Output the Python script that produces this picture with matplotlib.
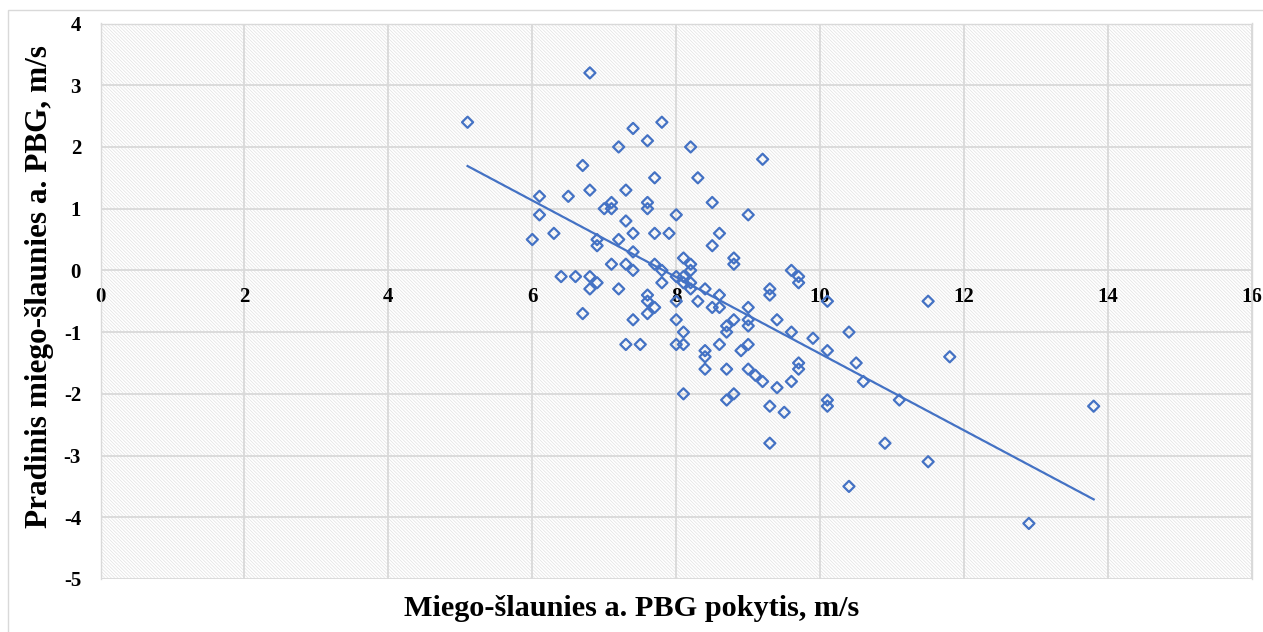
import matplotlib.pyplot as plt
import numpy as np
from matplotlib.patches import Rectangle

# --- Data: PBG change (x) vs. initial carotid-femoral PBG (y), m/s ---
pbg_change = [
    5.1, 6.0, 6.1, 6.1, 6.3, 6.4, 6.5, 6.6, 6.7, 6.7,
    6.8, 6.8, 6.8, 6.8, 6.9, 6.9, 6.9, 7.0, 7.1, 7.1,
    7.1, 7.2, 7.2, 7.2, 7.3, 7.3, 7.3, 7.3, 7.4, 7.4,
    7.4, 7.4, 7.4, 7.5, 7.6, 7.6, 7.6, 7.6, 7.6, 7.6,
    7.7, 7.7, 7.7, 7.7, 7.8, 7.8, 7.8, 7.9, 8.0, 8.0,
    8.0, 8.0, 8.0, 8.1, 8.1, 8.1, 8.1, 8.1, 8.1, 8.2,
    8.2, 8.2, 8.2, 8.2, 8.3, 8.3, 8.4, 8.4, 8.4, 8.4,
    8.5, 8.5, 8.5, 8.6, 8.6, 8.6, 8.6, 8.7, 8.7, 8.7,
    8.7, 8.8, 8.8, 8.8, 8.8, 8.9, 9.0, 9.0, 9.0, 9.0,
    9.0, 9.0, 9.1, 9.2, 9.2, 9.3, 9.3, 9.3, 9.3, 9.4,
    9.4, 9.5, 9.6, 9.6, 9.6, 9.7, 9.7, 9.7, 9.7, 9.9,
    10.1, 10.1, 10.1, 10.1, 10.4, 10.4, 10.5, 10.6, 10.9, 11.1,
    11.5, 11.5, 11.8, 12.9, 13.8,
]
pbg_initial = [
    2.4, 0.5, 1.2, 0.9, 0.6, -0.1, 1.2, -0.1, 1.7, -0.7,
    3.2, 1.3, -0.1, -0.3, 0.5, 0.4, -0.2, 1.0, 1.1, 1.0,
    0.1, 2.0, 0.5, -0.3, 1.3, 0.8, 0.1, -1.2, 2.3, 0.6,
    0.3, 0.0, -0.8, -1.2, 2.1, 1.1, 1.0, -0.4, -0.5, -0.7,
    1.5, 0.6, 0.1, -0.6, 2.4, 0.0, -0.2, 0.6, 0.9, -0.1,
    -0.5, -0.8, -1.2, 0.2, -0.1, -0.2, -1.0, -1.2, -2.0, 2.0,
    0.1, 0.0, -0.2, -0.3, 1.5, -0.5, -0.3, -1.3, -1.4, -1.6,
    1.1, 0.4, -0.6, 0.6, -0.4, -0.6, -1.2, -0.9, -1.0, -1.6,
    -2.1, 0.2, 0.1, -0.8, -2.0, -1.3, 0.9, -0.6, -0.8, -0.9,
    -1.2, -1.6, -1.7, 1.8, -1.8, -0.3, -0.4, -2.2, -2.8, -0.8,
    -1.9, -2.3, 0.0, -1.0, -1.8, -0.1, -0.2, -1.5, -1.6, -1.1,
    -0.5, -1.3, -2.1, -2.2, -1.0, -3.5, -1.5, -1.8, -2.8, -2.1,
    -0.5, -3.1, -1.4, -4.1, -2.2,
]
x_ticks = [0, 2, 4, 6, 8, 10, 12, 14, 16]
y_ticks = [-5, -4, -3, -2, -1, 0, 1, 2, 3, 4]

x = np.array(pbg_change)
y = np.array(pbg_initial)

# linear trendline over the data range
slope, intercept = np.polyfit(x, y, 1)
x_fit = np.array([x.min(), x.max()])
y_fit = slope * x_fit + intercept

blue = "#4472C4"
grid_gray = "#d9d9d9"
serif = ["Liberation Serif", "DejaVu Serif"]

plt.rcParams["axes.unicode_minus"] = False
plt.rcParams["hatch.linewidth"] = 0.5

# --- Figure ---
W, H = 1263, 632
fig = plt.figure(figsize=(W / 100, H / 100), dpi=100)
fig.patches.append(Rectangle((8 / W, -0.1), 1.2, 1.1 - 10 / H, transform=fig.transFigure,
                             facecolor="white", edgecolor=grid_gray, linewidth=1.0, zorder=-1))
ax = fig.add_axes([100.5 / W, 1 - 579 / H, (1252 - 100.5) / W, (579 - 23.5) / H])

# fine diagonal hatch on the plot area
ax.add_patch(Rectangle((0, 0), 1, 1, transform=ax.transAxes, facecolor="white",
                       edgecolor="#e2e2e2", hatch="\\" * 10, linewidth=0, zorder=0))

ax.scatter(x, y, marker="D", s=32, facecolors="none", edgecolors=blue,
           linewidths=1.6, zorder=3)
ax.plot(x_fit, y_fit, color=blue, linewidth=1.6, zorder=2)

ax.set_xlim(0, 16)
ax.set_ylim(-5, 4)
ax.set_xticks(x_ticks)
ax.set_yticks(y_ticks)
ax.set_axisbelow(True)
ax.grid(True, color=grid_gray, linewidth=1.3)

# x axis crosses at y = 0
ax.spines["bottom"].set_position(("data", 0))
ax.spines["bottom"].set_visible(False)
for side in ["top", "left", "right"]:
    ax.spines[side].set_color(grid_gray)
    ax.spines[side].set_linewidth(1.0)

ax.tick_params(axis="both", length=0)
ax.tick_params(axis="x", pad=12)
ax.tick_params(axis="y", pad=14)
for lbl in ax.get_xticklabels() + ax.get_yticklabels():
    lbl.set_fontfamily(serif)
    lbl.set_fontweight("bold")
    lbl.set_fontsize(15)

fig.text(632 / W, 1 - 609 / H, "Miego-šlaunies a. PBG pokytis, m/s",
         ha="center", va="center", fontsize=21.8, fontweight="bold", family=serif)
fig.text(40 / W, 1 - 287 / H, "Pradinis miego-šlaunies a. PBG, m/s", rotation=90,
         ha="center", va="center", fontsize=22.5, fontweight="bold", family=serif)

plt.savefig("out.png", dpi=100)
